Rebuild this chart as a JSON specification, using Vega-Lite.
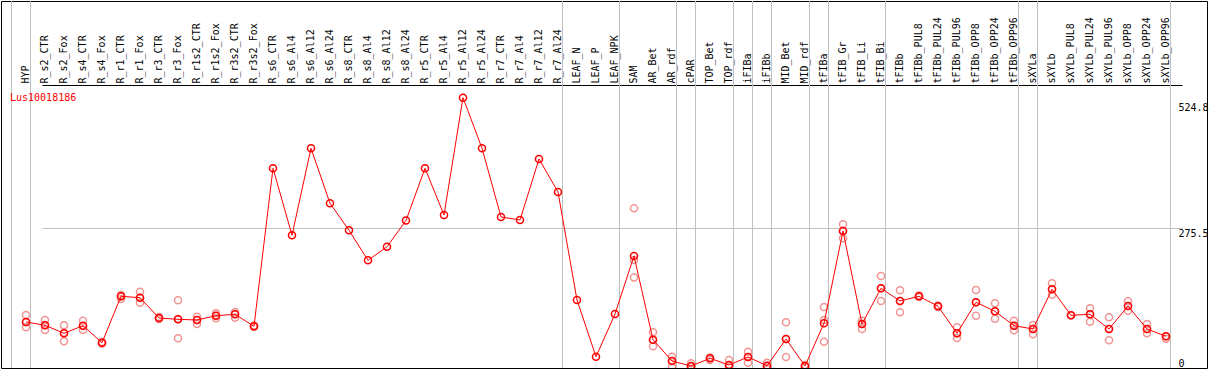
{
  "$schema": "https://vega.github.io/schema/vega-lite/v6.json",
  "width": 1206,
  "height": 367,
  "autosize": {"type": "none"},
  "padding": {"left": 1, "top": 1, "right": 2, "bottom": 2},
  "background": "white",
  "config": {
    "view": {"stroke": "black", "strokeWidth": 1},
    "font": "DejaVu Sans Mono"
  },
  "title": {
    "text": "Lus10018186",
    "color": "#ff0000",
    "font": "DejaVu Sans Mono",
    "fontSize": 10,
    "fontWeight": "normal",
    "anchor": "start",
    "frame": "group",
    "baseline": "bottom",
    "offset": -112,
    "dx": 9
  },
  "datasets": {
    "means": [
      {"cat": "HYP", "value": 90.8},
      {"cat": "R_s2_CTR", "value": 84.3},
      {"cat": "R_s2_Fox", "value": 68.5},
      {"cat": "R_s4_CTR", "value": 83.5},
      {"cat": "R_s4_Fox", "value": 49.9},
      {"cat": "R_r1_CTR", "value": 141.5},
      {"cat": "R_r1_Fox", "value": 138.8},
      {"cat": "R_r3_CTR", "value": 98.7},
      {"cat": "R_r3_Fox", "value": 96.1},
      {"cat": "R_r1s2_CTR", "value": 94.8},
      {"cat": "R_r1s2_Fox", "value": 103.2},
      {"cat": "R_r3s2_CTR", "value": 106.0},
      {"cat": "R_r3s2_Fox", "value": 82.3},
      {"cat": "R_s6_CTR", "value": 394.2},
      {"cat": "R_s6_Al4", "value": 262.1},
      {"cat": "R_s6_Al12", "value": 433.7},
      {"cat": "R_s6_Al24", "value": 325.1},
      {"cat": "R_s8_CTR", "value": 271.8},
      {"cat": "R_s8_Al4", "value": 212.6},
      {"cat": "R_s8_Al12", "value": 239.3},
      {"cat": "R_s8_Al24", "value": 291.2},
      {"cat": "R_r5_CTR", "value": 394.2},
      {"cat": "R_r5_Al4", "value": 302.0},
      {"cat": "R_r5_Al12", "value": 533.6},
      {"cat": "R_r5_Al24", "value": 433.7},
      {"cat": "R_r7_CTR", "value": 298.1},
      {"cat": "R_r7_Al4", "value": 292.2},
      {"cat": "R_r7_Al12", "value": 412.6},
      {"cat": "R_r7_Al24", "value": 347.4},
      {"cat": "LEAF_N", "value": 134.2},
      {"cat": "LEAF_P", "value": 22.3},
      {"cat": "LEAF_NPK", "value": 106.6},
      {"cat": "SAM", "value": 221.1},
      {"cat": "AR_Bet", "value": 55.9},
      {"cat": "AR_rdf", "value": 13.8},
      {"cat": "cPAR", "value": 3.9},
      {"cat": "TOP_Bet", "value": 19.1},
      {"cat": "TOP_rdf", "value": 5.9},
      {"cat": "iFIBa", "value": 21.7},
      {"cat": "iFIBb", "value": 4.5},
      {"cat": "MID_Bet", "value": 57.2},
      {"cat": "MID_rdf", "value": 3.9},
      {"cat": "tFIBa", "value": 88.2},
      {"cat": "tFIB_Gr", "value": 270.4},
      {"cat": "tFIB_Li", "value": 86.9},
      {"cat": "tFIB_Bi", "value": 157.3},
      {"cat": "tFIBb", "value": 132.3},
      {"cat": "tFIBb_PUL8", "value": 141.5},
      {"cat": "tFIBb_PUL24", "value": 121.8},
      {"cat": "tFIBb_PUL96", "value": 68.5},
      {"cat": "tFIBb_OPP8", "value": 129.7},
      {"cat": "tFIBb_OPP24", "value": 111.9},
      {"cat": "tFIBb_OPP96", "value": 83.5},
      {"cat": "sXYLa", "value": 77.0},
      {"cat": "sXYLb", "value": 155.4},
      {"cat": "sXYLb_PUL8", "value": 104.0},
      {"cat": "sXYLb_PUL24", "value": 106.0},
      {"cat": "sXYLb_PUL96", "value": 77.0},
      {"cat": "sXYLb_OPP8", "value": 122.4},
      {"cat": "sXYLb_OPP24", "value": 77.0},
      {"cat": "sXYLb_OPP96", "value": 62.6}
    ],
    "reps": [
      {"cat": "HYP", "value": 104.6}, {"cat": "HYP", "value": 90.8}, {"cat": "HYP", "value": 80.3},
      {"cat": "R_s2_CTR", "value": 94.8}, {"cat": "R_s2_CTR", "value": 84.9}, {"cat": "R_s2_CTR", "value": 75.0},
      {"cat": "R_s2_Fox", "value": 84.3}, {"cat": "R_s2_Fox", "value": 69.1}, {"cat": "R_s2_Fox", "value": 52.7},
      {"cat": "R_s4_CTR", "value": 93.4}, {"cat": "R_s4_CTR", "value": 82.9}, {"cat": "R_s4_CTR", "value": 75.0},
      {"cat": "R_s4_Fox", "value": 51.3}, {"cat": "R_s4_Fox", "value": 49.3}, {"cat": "R_s4_Fox", "value": 48.4},
      {"cat": "R_r1_CTR", "value": 144.1}, {"cat": "R_r1_CTR", "value": 141.0}, {"cat": "R_r1_CTR", "value": 136.2},
      {"cat": "R_r1_Fox", "value": 150.6}, {"cat": "R_r1_Fox", "value": 138.2}, {"cat": "R_r1_Fox", "value": 128.9},
      {"cat": "R_r3_CTR", "value": 100.7}, {"cat": "R_r3_CTR", "value": 98.7}, {"cat": "R_r3_CTR", "value": 96.7},
      {"cat": "R_r3_Fox", "value": 133.6}, {"cat": "R_r3_Fox", "value": 96.7}, {"cat": "R_r3_Fox", "value": 58.6},
      {"cat": "R_r1s2_CTR", "value": 101.3}, {"cat": "R_r1s2_CTR", "value": 94.8}, {"cat": "R_r1s2_CTR", "value": 86.9},
      {"cat": "R_r1s2_Fox", "value": 108.0}, {"cat": "R_r1s2_Fox", "value": 103.2}, {"cat": "R_r1s2_Fox", "value": 98.1},
      {"cat": "R_r3s2_CTR", "value": 110.5}, {"cat": "R_r3s2_CTR", "value": 106.6}, {"cat": "R_r3s2_CTR", "value": 99.3},
      {"cat": "R_r3s2_Fox", "value": 83.9}, {"cat": "R_r3s2_Fox", "value": 82.3}, {"cat": "R_r3s2_Fox", "value": 80.9},
      {"cat": "SAM", "value": 315.2}, {"cat": "SAM", "value": 213.2}, {"cat": "SAM", "value": 178.7},
      {"cat": "AR_Bet", "value": 70.5}, {"cat": "AR_Bet", "value": 55.3}, {"cat": "AR_Bet", "value": 42.8},
      {"cat": "AR_rdf", "value": 22.3}, {"cat": "AR_rdf", "value": 13.8}, {"cat": "AR_rdf", "value": 2.6},
      {"cat": "cPAR", "value": 9.3}, {"cat": "cPAR", "value": 3.9}, {"cat": "cPAR", "value": 2.0},
      {"cat": "TOP_Bet", "value": 20.7}, {"cat": "TOP_Bet", "value": 19.1}, {"cat": "TOP_Bet", "value": 15.8},
      {"cat": "TOP_rdf", "value": 15.8}, {"cat": "TOP_rdf", "value": 5.9}, {"cat": "TOP_rdf", "value": 2.6},
      {"cat": "iFIBa", "value": 32.2}, {"cat": "iFIBa", "value": 21.7}, {"cat": "iFIBa", "value": 10.5},
      {"cat": "iFIBb", "value": 10.5}, {"cat": "iFIBb", "value": 3.9}, {"cat": "iFIBb", "value": 0.5},
      {"cat": "MID_Bet", "value": 90.2}, {"cat": "MID_Bet", "value": 57.2}, {"cat": "MID_Bet", "value": 21.7},
      {"cat": "MID_rdf", "value": 5.9}, {"cat": "MID_rdf", "value": 3.9}, {"cat": "MID_rdf", "value": 2.0},
      {"cat": "tFIBa", "value": 120.4}, {"cat": "tFIBa", "value": 94.8}, {"cat": "tFIBa", "value": 51.9},
      {"cat": "tFIB_Gr", "value": 283.7}, {"cat": "tFIB_Gr", "value": 270.4}, {"cat": "tFIB_Gr", "value": 256.0},
      {"cat": "tFIB_Li", "value": 93.4}, {"cat": "tFIB_Li", "value": 86.9}, {"cat": "tFIB_Li", "value": 77.0},
      {"cat": "tFIB_Bi", "value": 181.6}, {"cat": "tFIB_Bi", "value": 157.3}, {"cat": "tFIB_Bi", "value": 132.3},
      {"cat": "tFIBb", "value": 153.4}, {"cat": "tFIBb", "value": 132.3}, {"cat": "tFIBb", "value": 110.0},
      {"cat": "tFIBb_PUL8", "value": 143.1}, {"cat": "tFIBb_PUL8", "value": 141.5}, {"cat": "tFIBb_PUL8", "value": 140.2},
      {"cat": "tFIBb_PUL24", "value": 123.4}, {"cat": "tFIBb_PUL24", "value": 121.8}, {"cat": "tFIBb_PUL24", "value": 120.4},
      {"cat": "tFIBb_PUL96", "value": 80.3}, {"cat": "tFIBb_PUL96", "value": 68.5}, {"cat": "tFIBb_PUL96", "value": 59.2},
      {"cat": "tFIBb_OPP8", "value": 154.0}, {"cat": "tFIBb_OPP8", "value": 129.7}, {"cat": "tFIBb_OPP8", "value": 103.2},
      {"cat": "tFIBb_OPP24", "value": 127.7}, {"cat": "tFIBb_OPP24", "value": 111.9}, {"cat": "tFIBb_OPP24", "value": 97.3},
      {"cat": "tFIBb_OPP96", "value": 93.4}, {"cat": "tFIBb_OPP96", "value": 83.5}, {"cat": "tFIBb_OPP96", "value": 74.4},
      {"cat": "sXYLa", "value": 84.9}, {"cat": "sXYLa", "value": 77.0}, {"cat": "sXYLa", "value": 66.5},
      {"cat": "sXYLb", "value": 167.2}, {"cat": "sXYLb", "value": 155.4}, {"cat": "sXYLb", "value": 144.7},
      {"cat": "sXYLb_PUL8", "value": 104.0}, {"cat": "sXYLb_PUL8", "value": 104.0},
      {"cat": "sXYLb_PUL24", "value": 117.8}, {"cat": "sXYLb_PUL24", "value": 106.0}, {"cat": "sXYLb_PUL24", "value": 91.4},
      {"cat": "sXYLb_PUL96", "value": 100.1}, {"cat": "sXYLb_PUL96", "value": 77.0}, {"cat": "sXYLb_PUL96", "value": 54.7},
      {"cat": "sXYLb_OPP8", "value": 131.7}, {"cat": "sXYLb_OPP8", "value": 122.4}, {"cat": "sXYLb_OPP8", "value": 113.1},
      {"cat": "sXYLb_OPP24", "value": 86.9}, {"cat": "sXYLb_OPP24", "value": 77.0}, {"cat": "sXYLb_OPP24", "value": 68.5},
      {"cat": "sXYLb_OPP96", "value": 62.6}, {"cat": "sXYLb_OPP96", "value": 57.8}
    ],
    "groupEnds": [
      {"cat": "HYP"}, {"cat": "R_r7_Al24"}, {"cat": "LEAF_NPK"}, {"cat": "AR_rdf"}, {"cat": "cPAR"},
      {"cat": "TOP_rdf"}, {"cat": "iFIBa"}, {"cat": "iFIBb"}, {"cat": "MID_rdf"}, {"cat": "tFIBa"},
      {"cat": "tFIB_Bi"}, {"cat": "tFIBb_OPP96"}, {"cat": "sXYLa"}, {"cat": "sXYLb_OPP96"}
    ],
    "groupStart": [{"cat": "HYP"}]
  },
  "encoding": {
    "x": {
      "field": "cat",
      "type": "nominal",
      "sort": null,
      "scale": {
        "type": "point",
        "domain": ["HYP","R_s2_CTR","R_s2_Fox","R_s4_CTR","R_s4_Fox","R_r1_CTR","R_r1_Fox","R_r3_CTR","R_r3_Fox","R_r1s2_CTR","R_r1s2_Fox","R_r3s2_CTR","R_r3s2_Fox","R_s6_CTR","R_s6_Al4","R_s6_Al12","R_s6_Al24","R_s8_CTR","R_s8_Al4","R_s8_Al12","R_s8_Al24","R_r5_CTR","R_r5_Al4","R_r5_Al12","R_r5_Al24","R_r7_CTR","R_r7_Al4","R_r7_Al12","R_r7_Al24","LEAF_N","LEAF_P","LEAF_NPK","SAM","AR_Bet","AR_rdf","cPAR","TOP_Bet","TOP_rdf","iFIBa","iFIBb","MID_Bet","MID_rdf","tFIBa","tFIB_Gr","tFIB_Li","tFIB_Bi","tFIBb","tFIBb_PUL8","tFIBb_PUL24","tFIBb_PUL96","tFIBb_OPP8","tFIBb_OPP24","tFIBb_OPP96","sXYLa","sXYLb","sXYLb_PUL8","sXYLb_PUL24","sXYLb_PUL96","sXYLb_OPP8","sXYLb_OPP24","sXYLb_OPP96"],
        "range": [25, 1165],
        "padding": 0
      },
      "axis": {
        "orient": "top",
        "offset": -84,
        "title": null,
        "grid": false,
        "ticks": false,
        "domain": false,
        "labelAngle": 270,
        "labelAlign": "left",
        "labelBaseline": "middle",
        "labelPadding": 2,
        "labelOffset": -1,
        "labelFont": "DejaVu Sans Mono",
        "labelFontSize": 10,
        "labelColor": "black",
        "labelOverlap": false,
        "labelBound": false
      }
    }
  },
  "layer": [
    {
      "data": {"name": "groupEnds"},
      "mark": {"type": "rule", "color": "#c0c0c0", "strokeWidth": 1, "xOffset": 4.5},
      "encoding": {"x": {"field": "cat", "type": "nominal"}}
    },
    {
      "data": {"name": "groupStart"},
      "mark": {"type": "rule", "color": "#c0c0c0", "strokeWidth": 1, "xOffset": -14.5},
      "encoding": {"x": {"field": "cat", "type": "nominal"}}
    },
    {
      "data": {"name": "reps"},
      "mark": {"type": "point", "shape": "circle", "filled": false, "color": "#f09494", "size": 50, "strokeWidth": 1.5, "opacity": 1, "clip": true},
      "encoding": {
        "y": {
          "field": "value",
          "type": "quantitative",
          "scale": {"domain": [0, 724.4], "nice": false, "zero": true},
          "axis": {
            "orient": "right",
            "values": [0, 275.5, 524.8, 558.6],
            "title": null,
            "ticks": false,
            "domain": false,
            "grid": true,
            "gridColor": {"condition": {"test": "datum.value > 550", "value": "black"}, "value": "#c0c0c0"},
            "gridWidth": 1,
            "gridOpacity": {"condition": {"test": "datum.value === 275.5 || datum.value > 550", "value": 1}, "value": 0},
            "labelOpacity": {"condition": {"test": "datum.value > 550", "value": 0}, "value": 1},
            "labelAlign": "left",
            "labelPadding": -29,
            "labelBaseline": {"condition": {"test": "datum.value === 0", "value": "bottom"}, "value": "top"},
            "labelFont": "DejaVu Sans Mono",
            "labelFontSize": 10,
            "labelColor": "black",
            "labelBound": false,
            "labelFlush": false,
            "labelOverlap": false,
            "format": ".1~f"
          }
        }
      }
    },
    {
      "data": {"name": "means"},
      "mark": {"type": "line", "color": "#ff0000", "strokeWidth": 1},
      "encoding": {"y": {"field": "value", "type": "quantitative"}}
    },
    {
      "data": {"name": "means"},
      "mark": {"type": "point", "shape": "circle", "filled": false, "color": "#ff0000", "size": 50, "strokeWidth": 1.5, "opacity": 1, "clip": true},
      "encoding": {"y": {"field": "value", "type": "quantitative"}}
    }
  ]
}
